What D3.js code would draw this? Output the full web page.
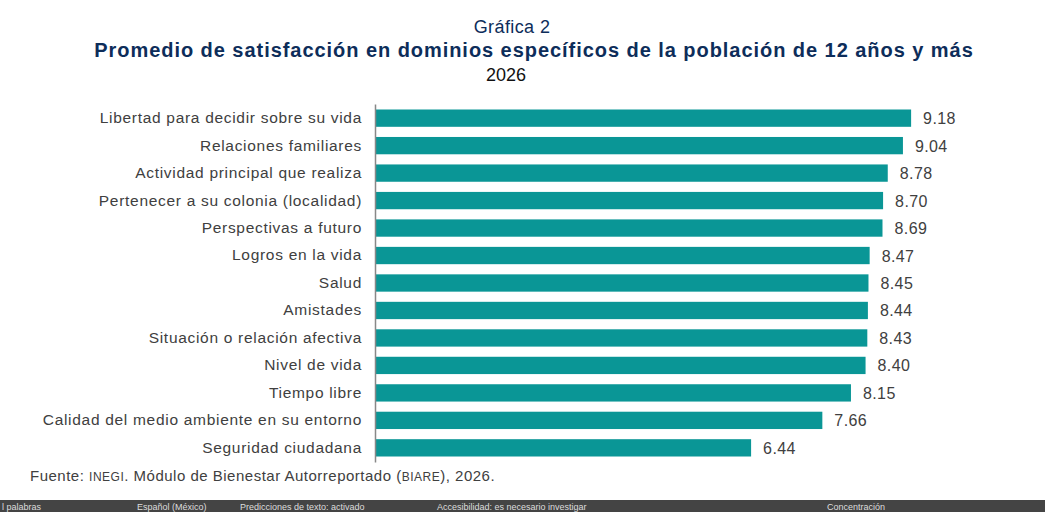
<!DOCTYPE html>
<html><head><meta charset="utf-8">
<script src="https://cdn.jsdelivr.net/npm/d3@7"></script>
<style>body{margin:0;background:#fff;font-family:Arial,"Liberation Sans",sans-serif}</style>
</head><body><svg id="c" width="1045" height="512"></svg>
<script>
const categories = ["Libertad para decidir sobre su vida","Relaciones familiares","Actividad principal que realiza","Pertenecer a su colonia (localidad)","Perspectivas a futuro","Logros en la vida","Salud","Amistades","Situación o relación afectiva","Nivel de vida","Tiempo libre","Calidad del medio ambiente en su entorno","Seguridad ciudadana"];
const values = [9.18,9.04,8.78,8.70,8.69,8.47,8.45,8.44,8.43,8.40,8.15,7.66,6.44];

const svg = d3.select("#c");
const x = d3.scaleLinear().domain([0, 10]).range([375, 959]);
const y = d3.scaleBand().domain(categories).range([104, 462]).paddingInner(0.37).paddingOuter(0.2);

svg.append("text").attr("x", 512).attr("y", 33).attr("text-anchor", "middle")
  .attr("font-size", 18).attr("letter-spacing", 0.4).attr("fill", "#0d2d5a").text("Gráfica 2");
svg.append("text").attr("x", 534).attr("y", 57).attr("text-anchor", "middle")
  .attr("font-size", 20).attr("letter-spacing", 0.95).attr("font-weight", "bold").attr("fill", "#0d2d5a")
  .text("Promedio de satisfacción en dominios específicos de la población de 12 años y más");
svg.append("text").attr("x", 506).attr("y", 81).attr("text-anchor", "middle")
  .attr("font-size", 18).attr("fill", "#111").text("2026");

svg.selectAll("rect.bar").data(values).enter().append("rect").attr("class", "bar")
  .attr("x", x(0)).attr("y", (d, i) => y(categories[i]))
  .attr("width", d => x(d) - x(0)).attr("height", y.bandwidth()).attr("fill", "#0a9696");

svg.selectAll("text.val").data(values).enter().append("text").attr("class", "val")
  .attr("x", d => x(d) + 12).attr("y", (d, i) => y(categories[i]) + y.bandwidth() / 2 + 6)
  .attr("font-size", 16).attr("letter-spacing", 0.4).attr("fill", "#404040").text(d => d.toFixed(2));

const ax = svg.append("g").attr("transform", `translate(${x(0)},0)`)
  .call(d3.axisLeft(y).tickSize(0).tickPadding(13));
ax.select(".domain").attr("stroke", "#888").attr("stroke-width", 1.5);
ax.selectAll("text").attr("font-size", 15.5).attr("letter-spacing", 0.7).attr("fill", "#404040")
  .attr("font-family", "Arial,'Liberation Sans',sans-serif");

const src = svg.append("text").attr("x", 30).attr("y", 481).attr("font-size", 15).attr("letter-spacing", 0.5).attr("fill", "#404040");
src.append("tspan").text("Fuente: ");
src.append("tspan").attr("font-size", 12).text("INEGI");
src.append("tspan").text(". Módulo de Bienestar Autorreportado (");
src.append("tspan").attr("font-size", 12).text("BIARE");
src.append("tspan").text("), 2026.");

// barra de estado de la ventana
svg.append("rect").attr("x", 0).attr("y", 500).attr("width", 1045).attr("height", 12).attr("fill", "#444");
const sb = [[0,"l palabras"],[135,"Español (México)"],[238,"Predicciones de texto: activado"],[435,"Accesibilidad: es necesario investigar"],[825,"Concentración"]];
svg.selectAll("text.sb").data(sb).enter().append("text").attr("class","sb")
  .attr("x", d => d[0] + 2).attr("y", 510).attr("font-size", 9).attr("fill", "#ddd").text(d => d[1]);
</script></body></html>
